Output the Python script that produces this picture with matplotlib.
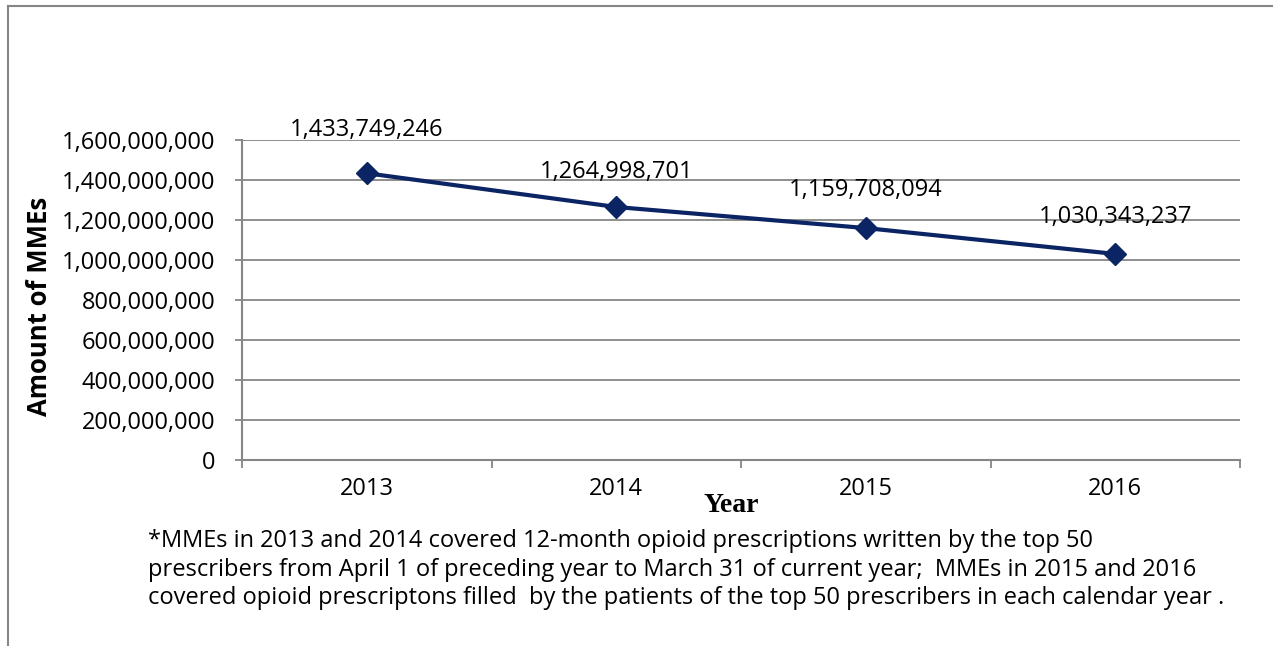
import matplotlib
matplotlib.use("Agg")
import matplotlib.pyplot as plt
from matplotlib.lines import Line2D
from matplotlib.ticker import FuncFormatter, FixedLocator

years = ["2013", "2014", "2015", "2016"]
mmes = [1433749246, 1264998701, 1159708094, 1030343237]
label_offsets_px = [43, 35, 38, 37]
y_ticks = [0, 200000000, 400000000, 600000000, 800000000,
           1000000000, 1200000000, 1400000000, 1600000000]

footnote = ("*MMEs in 2013 and 2014 covered 12-month opioid prescriptions written by the top 50\n"
            "prescribers from April 1 of preceding year to March 31 of current year;  MMEs in 2015 and 2016\n"
            "covered opioid prescriptons filled  by the patients of the top 50 prescribers in each calendar year .")

LINE_COLOR = "#0b2463"
GRID_COLOR = "#868686"
FONT = ["Open Sans", "DejaVu Sans"]
FS = 17

plt.rcParams["font.family"] = FONT

fig = plt.figure(figsize=(12.75, 6.46), dpi=100)
ax = fig.add_axes([242 / 1275, 1 - 460 / 646, (1240 - 242) / 1275, 320 / 646])

x = list(range(len(years)))
ax.plot(x, mmes, color=LINE_COLOR, linewidth=3.0, marker="D", markersize=11,
        markerfacecolor=LINE_COLOR, markeredgecolor=LINE_COLOR, zorder=3)

for xi, v, off in zip(x, mmes, label_offsets_px):
    ax.annotate(f"{v:,}", (xi, v), xytext=(0, off), textcoords="offset pixels",
                ha="center", va="center", fontsize=FS, color="black", zorder=4)

ax.set_xlim(-0.5, len(years) - 0.5)
ax.set_ylim(0, 1600000000)
ax.set_yticks(y_ticks)
ax.yaxis.set_major_formatter(FuncFormatter(lambda v, p: f"{int(v):,}"))
ax.grid(axis="y", color=GRID_COLOR, linewidth=1.3)
ax.set_axisbelow(True)

# category boundaries as major ticks, labels on minor ticks at centres
ax.xaxis.set_major_locator(FixedLocator([i - 0.5 for i in range(len(years) + 1)]))
ax.xaxis.set_major_formatter(FuncFormatter(lambda v, p: ""))
ax.xaxis.set_minor_locator(FixedLocator(x))
ax.set_xticklabels(years, minor=True)
ax.tick_params(axis="x", which="major", length=6, width=1.3, color=GRID_COLOR, direction="out")
ax.tick_params(axis="x", which="minor", length=0, pad=12, labelsize=FS)
ax.tick_params(axis="y", length=5, width=1.3, color=GRID_COLOR, pad=14, labelsize=FS)

for s in ["top", "right"]:
    ax.spines[s].set_visible(False)
for s in ["left", "bottom"]:
    ax.spines[s].set_color(GRID_COLOR)
    ax.spines[s].set_linewidth(1.5)

fig.text(40 / 1275, 1 - 306 / 646, "Amount of MMEs", rotation=90, ha="center", va="center",
         fontsize=18.5, fontweight="bold")
fig.text(731 / 1275, 1 - 506 / 646, "Year", ha="center", va="center",
         fontsize=20, fontweight="bold", family="Liberation Serif")
fig.text(148 / 1275, 1 - 529 / 646, footnote, ha="left", va="top", fontsize=FS,
         linespacing=1.25)

# chart border: top and left edges
fig.add_artist(Line2D([8 / 1275, 8 / 1275], [0, 1 - 6 / 646], transform=fig.transFigure,
                      color=GRID_COLOR, linewidth=1.5))
fig.add_artist(Line2D([8 / 1275, 1272 / 1275], [1 - 6 / 646, 1 - 6 / 646],
                      transform=fig.transFigure, color=GRID_COLOR, linewidth=1.5))

fig.savefig("out.png", dpi=100)
